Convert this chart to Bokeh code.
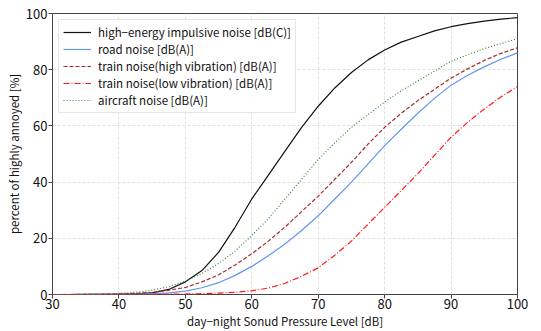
from bokeh.plotting import figure
from bokeh.models import Legend, LegendItem, FixedTicker
from bokeh.embed import file_html
from bokeh.resources import INLINE

level = [30, 32.5, 35, 37.5, 40, 42.5, 45, 47.5, 50, 52.5, 55, 57.5, 60, 62.5, 65,
         67.5, 70, 72.5, 75, 77.5, 80, 82.5, 85, 87.5, 90, 92.5, 95, 97.5, 100]

impulsive = [0, 0, 0.02, 0.05, 0.1, 0.25, 0.6, 1.8, 4.5, 8.5, 15, 24, 34, 42.5, 51,
             59.5, 67, 73.5, 79, 83.5, 87, 89.8, 91.8, 93.8, 95.3, 96.4, 97.3, 98, 98.5]
road = [0, 0, 0, 0.05, 0.1, 0.15, 0.3, 0.6, 1.2, 2.4, 4.2, 6.8, 10, 13.8, 18,
        22.8, 28, 34, 40, 46.5, 53, 58.8, 64.5, 69.8, 74.5, 78, 81, 83.7, 86]
train_high = [0, 0, 0.05, 0.1, 0.2, 0.4, 0.8, 1.5, 2.5, 4.5, 7, 10.5, 14.5, 19, 24,
              29.5, 35, 41, 47, 53.5, 59.5, 64.5, 69, 73, 77, 80.3, 83.3, 85.8, 87.8]
train_low = [0, 0, 0, 0, 0, 0, 0, 0.1, 0.15, 0.3, 0.5, 0.8, 1.3, 2.3, 4,
             6.5, 9.5, 14, 19, 25, 31, 37, 43, 49.5, 56, 61.3, 66, 70.3, 74]
aircraft = [0, 0.02, 0.05, 0.15, 0.4, 0.8, 1.5, 2.8, 4.7, 7.5, 11, 15.5, 21, 27, 34,
            41, 48, 54, 59.5, 64, 68.5, 72.5, 76, 79.5, 83, 85.3, 87.5, 89.3, 91]

labels = ["high\u2212energy impulsive noise [dB(C)]", "road noise [dB(A)]",
          "train noise(high vibration) [dB(A)]", "train noise(low vibration) [dB(A)]",
          "aircraft noise [dB(A)]"]
x_ticks = [30, 40, 50, 60, 70, 80, 90, 100]
y_ticks = [0, 20, 40, 60, 80, 100]

FONT = "Noto Sans CJK KR"

p = figure(width=541, height=331, output_backend="svg", toolbar_location=None,
           x_range=(30, 100), y_range=(0, 100),
           min_border_left=52, min_border_right=24, min_border_top=13, min_border_bottom=36)
p.background_fill_color = "white"
p.outline_line_color = "#444444"
p.outline_line_width = 1

series = [impulsive, road, train_high, train_low, aircraft]
colors = ["#111111", "#6495ED", "#a52a2a", "#ff1a1a", "#2e8b2e"]
dashes = ["solid", "solid", "4 2", "6 2 1 2", "1 2"]
renderers = []
for ys, c, d in zip(series, colors, dashes):
    r = p.line(level, ys, line_color=c, line_width=1.2, line_dash=d)
    renderers.append(r)

legend = Legend(items=[LegendItem(label=l, renderers=[r]) for l, r in zip(labels, renderers)],
                location="top_left", margin=6, padding=4, spacing=1,
                glyph_width=28, glyph_height=14, label_height=14, label_standoff=7,
                label_text_font=FONT, label_text_font_size="11.5px", label_text_color="#111111",
                border_line_color="#cccccc", border_line_width=1,
                background_fill_color="white", background_fill_alpha=0.85)
p.add_layout(legend)

for ax in (p.xaxis[0], p.yaxis[0]):
    ax.axis_line_color = None
    ax.major_tick_line_color = "#444444"
    ax.major_tick_out = 4
    ax.major_tick_in = 0
    ax.minor_tick_line_color = None
    ax.major_label_text_font = FONT
    ax.major_label_text_font_size = "13px"
    ax.major_label_text_color = "#111111"
    ax.axis_label_text_font = FONT
    ax.axis_label_text_font_size = "11.5px"
    ax.axis_label_text_font_style = "normal"
    ax.axis_label_text_color = "#111111"

p.xaxis.ticker = FixedTicker(ticks=x_ticks)
p.yaxis.ticker = FixedTicker(ticks=y_ticks)
p.xaxis.axis_label = "day\u2212night Sonud Pressure Level [dB]"
p.yaxis.axis_label = "percent of highly annoyed [%]"
p.xaxis.major_label_standoff = 0
p.yaxis.major_label_standoff = 1
p.xaxis.axis_label_standoff = 1
p.yaxis.axis_label_standoff = 1

p.grid.grid_line_color = "#d8d8d8"
p.grid.grid_line_dash = "3 2"
p.grid.grid_line_width = 0.8

open("out.html", "w").write(file_html(p, INLINE))
